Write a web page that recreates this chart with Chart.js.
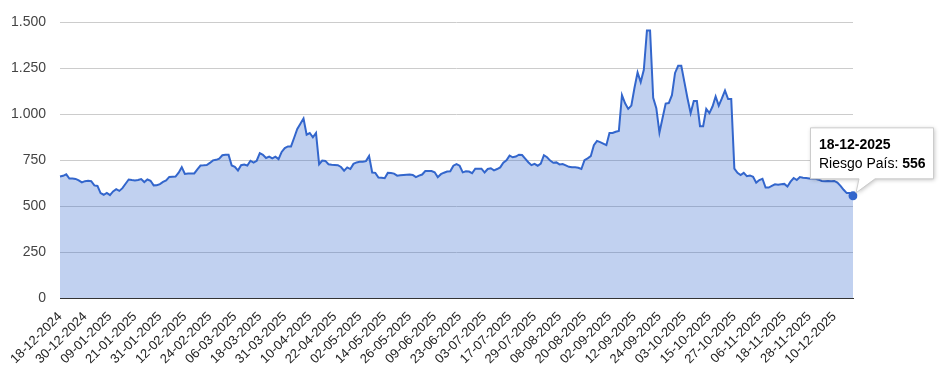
<!DOCTYPE html>
<html><head><meta charset="utf-8">
<script src="https://cdn.jsdelivr.net/npm/chart.js@4.4.1/dist/chart.umd.min.js"></script>
<style>html,body{margin:0;padding:0;background:#fff}#wrap{width:940px;height:366px;position:relative}</style>
</head><body><div id="wrap"><canvas id="c" width="940" height="366"></canvas></div>
<script>
const seriesName = 'Riesgo País';
const dates = [
'18-12-2024','19-12-2024','20-12-2024','23-12-2024','24-12-2024','25-12-2024','26-12-2024','27-12-2024',
'30-12-2024','31-12-2024','01-01-2025','02-01-2025','03-01-2025','06-01-2025','07-01-2025','08-01-2025',
'09-01-2025','10-01-2025','13-01-2025','14-01-2025','15-01-2025','16-01-2025','17-01-2025','20-01-2025',
'21-01-2025','22-01-2025','23-01-2025','24-01-2025','27-01-2025','28-01-2025','29-01-2025','30-01-2025',
'31-01-2025','03-02-2025','04-02-2025','05-02-2025','06-02-2025','07-02-2025','10-02-2025','11-02-2025',
'12-02-2025','13-02-2025','14-02-2025','17-02-2025','18-02-2025','19-02-2025','20-02-2025','21-02-2025',
'24-02-2025','25-02-2025','26-02-2025','27-02-2025','28-02-2025','03-03-2025','04-03-2025','05-03-2025',
'06-03-2025','07-03-2025','10-03-2025','11-03-2025','12-03-2025','13-03-2025','14-03-2025','17-03-2025',
'18-03-2025','19-03-2025','20-03-2025','21-03-2025','25-03-2025','26-03-2025','27-03-2025','28-03-2025',
'31-03-2025','01-04-2025','02-04-2025','03-04-2025','04-04-2025','07-04-2025','08-04-2025','09-04-2025',
'10-04-2025','11-04-2025','14-04-2025','15-04-2025','16-04-2025','17-04-2025','18-04-2025','21-04-2025',
'22-04-2025','23-04-2025','24-04-2025','25-04-2025','28-04-2025','29-04-2025','30-04-2025','01-05-2025',
'02-05-2025','05-05-2025','06-05-2025','07-05-2025','08-05-2025','09-05-2025','12-05-2025','13-05-2025',
'14-05-2025','15-05-2025','16-05-2025','19-05-2025','20-05-2025','21-05-2025','22-05-2025','23-05-2025',
'26-05-2025','27-05-2025','28-05-2025','29-05-2025','30-05-2025','03-06-2025','05-06-2025','06-06-2025',
'09-06-2025','10-06-2025','11-06-2025','12-06-2025','13-06-2025','17-06-2025','18-06-2025','19-06-2025',
'23-06-2025','24-06-2025','25-06-2025','26-06-2025','27-06-2025','30-06-2025','01-07-2025','02-07-2025',
'03-07-2025','07-07-2025','08-07-2025','10-07-2025','11-07-2025','14-07-2025','15-07-2025','16-07-2025',
'17-07-2025','18-07-2025','21-07-2025','22-07-2025','23-07-2025','24-07-2025','25-07-2025','28-07-2025',
'29-07-2025','30-07-2025','31-07-2025','01-08-2025','04-08-2025','05-08-2025','06-08-2025','07-08-2025',
'08-08-2025','11-08-2025','12-08-2025','13-08-2025','14-08-2025','15-08-2025','18-08-2025','19-08-2025',
'20-08-2025','21-08-2025','25-08-2025','26-08-2025','27-08-2025','28-08-2025','29-08-2025','01-09-2025',
'02-09-2025','03-09-2025','04-09-2025','05-09-2025','08-09-2025','09-09-2025','10-09-2025','11-09-2025',
'12-09-2025','15-09-2025','16-09-2025','17-09-2025','18-09-2025','19-09-2025','22-09-2025','23-09-2025',
'24-09-2025','25-09-2025','26-09-2025','27-09-2025','29-09-2025','30-09-2025','01-10-2025','02-10-2025',
'03-10-2025','06-10-2025','07-10-2025','08-10-2025','09-10-2025','10-10-2025','13-10-2025','14-10-2025',
'15-10-2025','16-10-2025','17-10-2025','20-10-2025','21-10-2025','22-10-2025','23-10-2025','24-10-2025',
'27-10-2025','28-10-2025','29-10-2025','30-10-2025','31-10-2025','03-11-2025','04-11-2025','05-11-2025',
'06-11-2025','07-11-2025','10-11-2025','11-11-2025','12-11-2025','13-11-2025','14-11-2025','17-11-2025',
'18-11-2025','19-11-2025','20-11-2025','21-11-2025','24-11-2025','25-11-2025','26-11-2025','27-11-2025',
'28-11-2025','01-12-2025','02-12-2025','03-12-2025','04-12-2025','05-12-2025','08-12-2025','09-12-2025',
'10-12-2025','11-12-2025','12-12-2025','15-12-2025','16-12-2025','17-12-2025','18-12-2025'
];
const values = [
661,665,673,650,650,648,640,629,636,638,
636,613,610,571,562,572,560,580,592,583,
598,622,645,642,640,642,647,631,645,638,
613,614,620,632,640,659,660,661,682,712,
675,677,677,678,700,721,722,724,735,749,
752,758,777,779,779,721,714,694,723,726,
721,747,737,747,788,779,762,770,760,769,
756,795,816,825,825,872,920,948,977,889,
898,875,898,728,748,746,728,725,724,723,
713,693,711,702,730,738,741,742,745,773,
683,681,656,654,652,681,680,677,666,668,
670,671,672,670,658,666,672,691,691,691,
684,658,674,682,688,690,720,729,720,684,
690,688,679,704,704,704,683,702,706,695,
702,711,736,750,775,766,770,780,778,759,
739,723,730,720,732,777,766,748,736,738,
727,729,722,714,712,711,709,702,750,760,
772,832,855,848,840,832,898,898,905,909,
1104,1060,1029,1047,1143,1228,1175,1242,1456,1456,
1090,1033,900,980,1058,1061,1104,1225,1264,1264,
1175,1086,1006,1072,1072,935,935,1029,1006,1042,
1097,1047,1086,1129,1083,1083,704,681,669,681,
663,667,660,628,642,649,601,601,610,619,
616,619,621,607,633,653,642,658,655,653,
651,649,649,644,637,635,637,635,637,628,
610,589,571,571,556
];
const yTicks = [0, 250, 500, 750, 1000, 1250, 1500];
const labelEvery = 8;

const lastIndex = values.length - 1;
const FONT = '"Liberation Sans", Arial, sans-serif';
function fmt(n){ return String(n).replace(/\B(?=(\d{3})+(?!\d))/g, '.'); }

const tooltipPlugin = {
  id: 'fixedTip',
  afterDatasetsDraw(chart){
    const el = chart.getDatasetMeta(0).data[lastIndex];
    if(!el) return;
    const px = el.x, py = el.y;
    const ctx = chart.ctx;
    const L = px - 42.5, T = py - 68, W = 123, H = 51;
    const R = L + W, B = T + H;
    ctx.save();
    ctx.beginPath();
    ctx.moveTo(L, T);
    ctx.lineTo(R, T);
    ctx.lineTo(R, B);
    ctx.lineTo(px + 22, B);
    ctx.lineTo(px + 3, py - 3);
    ctx.lineTo(px + 6, B);
    ctx.lineTo(L, B);
    ctx.closePath();
    ctx.shadowColor = 'rgba(0,0,0,0.25)';
    ctx.shadowBlur = 4;
    ctx.shadowOffsetX = 1;
    ctx.shadowOffsetY = 1;
    ctx.fillStyle = '#fff';
    ctx.fill();
    ctx.shadowColor = 'transparent';
    ctx.strokeStyle = '#cccccc';
    ctx.lineWidth = 1;
    ctx.stroke();
    ctx.fillStyle = '#000';
    ctx.textBaseline = 'alphabetic';
    ctx.textAlign = 'left';
    ctx.font = 'bold 14px ' + FONT;
    ctx.fillText(dates[lastIndex], L + 8.5, T + 21);
    ctx.font = '14px ' + FONT;
    const lbl = seriesName + ': ';
    ctx.fillText(lbl, L + 8.5, T + 40);
    const w = ctx.measureText(lbl).width;
    ctx.font = 'bold 14px ' + FONT;
    ctx.fillText(fmt(values[lastIndex]), L + 8.5 + w, T + 40);
    ctx.restore();
  }
};

new Chart(document.getElementById('c'), {
  type: 'line',
  data: {
    labels: dates,
    datasets: [{
      label: seriesName,
      data: values,
      borderColor: '#3366cc',
      backgroundColor: 'rgba(51,102,204,0.3)',
      borderWidth: 2,
      fill: 'origin',
      tension: 0,
      pointRadius: ctx => ctx.dataIndex === lastIndex ? 4.5 : 0,
      pointBackgroundColor: '#3366cc',
      pointBorderColor: '#3366cc',
      pointBorderWidth: 0
    }]
  },
  options: {
    responsive: false,
    devicePixelRatio: 1,
    animation: false,
    events: [],
    layout: { padding: { left: 0, right: 87, top: 17, bottom: 0 } },
    plugins: { legend: { display: false }, tooltip: { enabled: false } },
    scales: {
      x: {
        type: 'category',
        offset: false,
        grid: { display: false, drawTicks: false },
        border: { display: true, color: '#333333', width: 1 },
        ticks: {
          autoSkip: false,
          maxRotation: 45,
          minRotation: 45,
          padding: 11,
          color: '#222222',
          font: { family: FONT, size: 13 },
          callback: function(v, i){ return (i % labelEvery === 0 && i < lastIndex) ? dates[i] : null; }
        },
        afterFit(scale){ scale.height = 68; }
      },
      y: {
        min: 0, max: 1500,
        afterBuildTicks(scale){ scale.ticks = yTicks.map(v => ({ value: v })); },
        grid: {
          color: c => (c.tick && c.tick.value === 0) ? '#333333' : '#cccccc',
          drawTicks: false
        },
        border: { display: false },
        ticks: {
          padding: 14,
          color: '#444444',
          font: { family: FONT, size: 14 },
          callback: v => fmt(v)
        },
        afterFit(scale){ scale.width = 60; }
      }
    }
  },
  plugins: [tooltipPlugin]
});
</script>
</body></html>
